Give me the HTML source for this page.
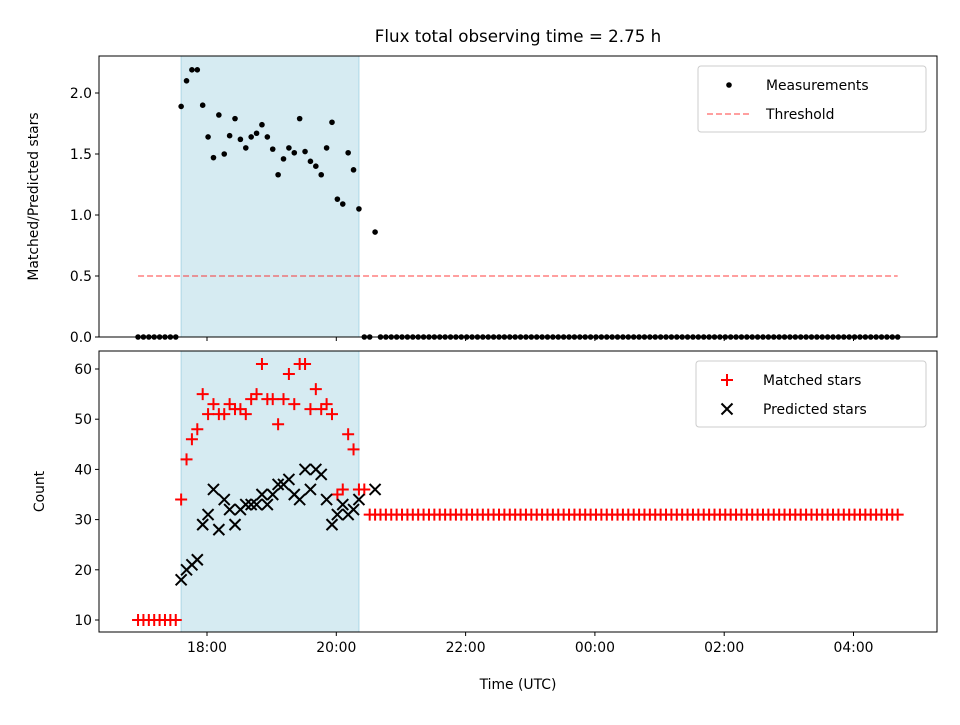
<!DOCTYPE html>
<html><head><meta charset="utf-8"><style>
body{margin:0;background:#fff;}
svg{font-family:"DejaVu Sans","Liberation Sans",sans-serif;}
</style></head><body>
<svg id="chart" width="960" height="720" viewBox="0 0 960 720" xmlns="http://www.w3.org/2000/svg">
<rect width="960" height="720" fill="#fff"/>
<text x="518" y="42" font-size="16.7" text-anchor="middle">Flux total observing time = 2.75 h</text>
<g id="top"></g><g id="bot"></g>
</svg>
<script>
// minutes relative to 18:00 UTC
const times=[-64,-59,-54,-49,-44,-39,-34,-29,-24,-19,-14,-9,-4,1,6,11,16,21,26,31,36,41,46,51,56,61,66,71,76,81,86,91,96,101,106,111,116,121,126,131,136,141,146,151,156,161,166,171,176,181,186,191,196,201,206,211,216,221,226,231,236,241,246,251,256,261,266,271,276,281,286,291,296,301,306,311,316,321,326,331,336,341,346,351,356,361,366,371,376,381,386,391,396,401,406,411,416,421,426,431,436,441,446,451,456,461,466,471,476,481,486,491,496,501,506,511,516,521,526,531,536,541,546,551,556,561,566,571,576,581,586,591,596,601,606,611,616,621,626,631,636,641];
const matched=[10,10,10,10,10,10,10,10,34,42,46,48,55,51,53,51,51,53,52,52,51,54,55,61,54,54,49,54,59,53,61,61,52,56,52,53,51,35,36,47,44,36,36,31,31,31,31,31,31,31,31,31,31,31,31,31,31,31,31,31,31,31,31,31,31,31,31,31,31,31,31,31,31,31,31,31,31,31,31,31,31,31,31,31,31,31,31,31,31,31,31,31,31,31,31,31,31,31,31,31,31,31,31,31,31,31,31,31,31,31,31,31,31,31,31,31,31,31,31,31,31,31,31,31,31,31,31,31,31,31,31,31,31,31,31,31,31,31,31,31,31,31];
const predicted=[null,null,null,null,null,null,null,null,18,20,21,22,29,31,36,28,34,32,29,32,33,33,33,35,33,35,37,37,38,35,34,40,36,40,39,34,29,31,33,31,32,34,null,null,36];
const ratio=[0,0,0,0,0,0,0,0,1.89,2.10,2.19,2.19,1.90,1.64,1.47,1.82,1.50,1.65,1.79,1.62,1.55,1.64,1.67,1.74,1.64,1.54,1.33,1.46,1.55,1.51,1.79,1.52,1.44,1.40,1.33,1.55,1.76,1.13,1.09,1.51,1.37,1.05,0,0,0.86,0,0,0,0,0,0,0,0,0,0,0,0,0,0,0,0,0,0,0,0,0,0,0,0,0,0,0,0,0,0,0,0,0,0,0,0,0,0,0,0,0,0,0,0,0,0,0,0,0,0,0,0,0,0,0,0,0,0,0,0,0,0,0,0,0,0,0,0,0,0,0,0,0,0,0,0,0,0,0,0,0,0,0,0,0,0,0,0,0,0,0,0,0,0,0,0,0];
const threshold=0.5;
const shadeStart=-24, shadeEnd=141;
const xTicks=[0,120,240,360,480,600];
const xTickLabels=["18:00","20:00","22:00","00:00","02:00","04:00"];
const yTopTicks=[0,0.5,1.0,1.5,2.0];
const yBotTicks=[10,20,30,40,50,60];

const NS="http://www.w3.org/2000/svg";
const X0=99,X1=937;
const xs=m=>207+m*64.65/60;
const ysT=v=>337-v*122;
const ysB=v=>620-(v-10)*5.02;
function mk(tag,attrs,parent,txt){const e=document.createElementNS(NS,tag);for(const k in attrs)e.setAttribute(k,attrs[k]);if(txt!==undefined)e.textContent=txt;parent.appendChild(e);return e;}

function axes(g,top,bottom,ys,ticks,fmt,ylabel,showXLabels,name,ylx){
  const sh=mk('rect',{x:xs(shadeStart),y:top,width:xs(shadeEnd)-xs(shadeStart),height:bottom-top,fill:'#add8e6','fill-opacity':0.5,stroke:'#add8e6'},g);
  
  
  ticks.forEach(t=>{
    const y=ys(t);
    mk('line',{x1:X0-4,x2:X0,y1:y,y2:y,stroke:'#000','stroke-width':1},g);
    const tl=mk('text',{x:X0-7,y:y+5,'font-size':13.9,'text-anchor':'end'},g,fmt(t));
    
    
  });
  xTicks.forEach((t,i)=>{
    const x=xs(t);
    mk('line',{x1:x,x2:x,y1:bottom,y2:bottom+4,stroke:'#000','stroke-width':1},g);
    if(showXLabels){
      const tl=mk('text',{x:x,y:bottom+20,'font-size':13.9,'text-anchor':'middle'},g,xTickLabels[i]);
      
      
    }
  });
  const yl=mk('text',{x:0,y:0,'font-size':13.9,'text-anchor':'middle',transform:`translate(${ylx},${(top+bottom)/2}) rotate(-90)`},g,ylabel);
  
  
}

const gT=document.getElementById('top');
axes(gT,56,337,ysT,yTopTicks,v=>v.toFixed(1),'Matched/Predicted stars',false,'top',38);
const th=mk('line',{x1:xs(times[0]),x2:xs(times[times.length-1]),y1:ysT(threshold),y2:ysT(threshold),stroke:'#ff0000','stroke-opacity':0.5,'stroke-width':1.6,'stroke-dasharray':'6,3'},gT);


ratio.forEach((v,i)=>{
  if(i>=times.length)return;
  const c=mk('circle',{cx:xs(times[i]),cy:ysT(v),r:2.8,fill:'#000'},gT);
  
  
});
mk('rect',{x:X0,y:56,width:X1-X0,height:281,fill:'none',stroke:'#000','stroke-width':1},gT);

const gB=document.getElementById('bot');
axes(gB,351,632,ysB,yBotTicks,v=>String(v),'Count',true,'bottom',44);
function plus(x,y,col,parent){const s=6;const p=mk('path',{d:`M${x-s} ${y}H${x+s}M${x} ${y-s}V${y+s}`,stroke:col,'stroke-width':2,fill:'none'},parent);return p;}
function cross(x,y,col,parent){const s=5.5;return mk('path',{d:`M${x-s} ${y-s}L${x+s} ${y+s}M${x-s} ${y+s}L${x+s} ${y-s}`,stroke:col,'stroke-width':2,fill:'none'},parent);}
matched.forEach((v,i)=>{
  if(i>=times.length)return;
  const p=plus(xs(times[i]),ysB(v),'#ff0000',gB);
  
  
});
predicted.forEach((v,i)=>{
  if(v===null||v===undefined||i>=times.length)return;
  const p=cross(xs(times[i]),ysB(v),'#000',gB);
  
  
});
mk('rect',{x:X0,y:351,width:X1-X0,height:281,fill:'none',stroke:'#000','stroke-width':1},gB);
const xt=mk('text',{x:518,y:689,'font-size':13.9,'text-anchor':'middle'},gB,'Time (UTC)');



// legends
const svg=document.getElementById('chart');
const lg1=mk('g',{},svg);


mk('rect',{x:698,y:66,width:228,height:66,rx:3,fill:'#fff','fill-opacity':0.8,stroke:'#ccc'},lg1);
mk('circle',{cx:729,cy:85,r:2.8,fill:'#000'},lg1);
mk('text',{x:766,y:90,'font-size':13.9},lg1,'Measurements');
mk('line',{x1:707,x2:750,y1:114,y2:114,stroke:'#ff0000','stroke-opacity':0.5,'stroke-width':1.6,'stroke-dasharray':'6,3'},lg1);
mk('text',{x:766,y:119,'font-size':13.9},lg1,'Threshold');
const lg2=mk('g',{},svg);


mk('rect',{x:696,y:361,width:230,height:66,rx:3,fill:'#fff','fill-opacity':0.8,stroke:'#ccc'},lg2);
plus(727,380,'#ff0000',lg2);
mk('text',{x:763,y:385,'font-size':13.9},lg2,'Matched stars');
cross(727,409,'#000',lg2);
mk('text',{x:763,y:414,'font-size':13.9},lg2,'Predicted stars');
</script>
</body></html>
